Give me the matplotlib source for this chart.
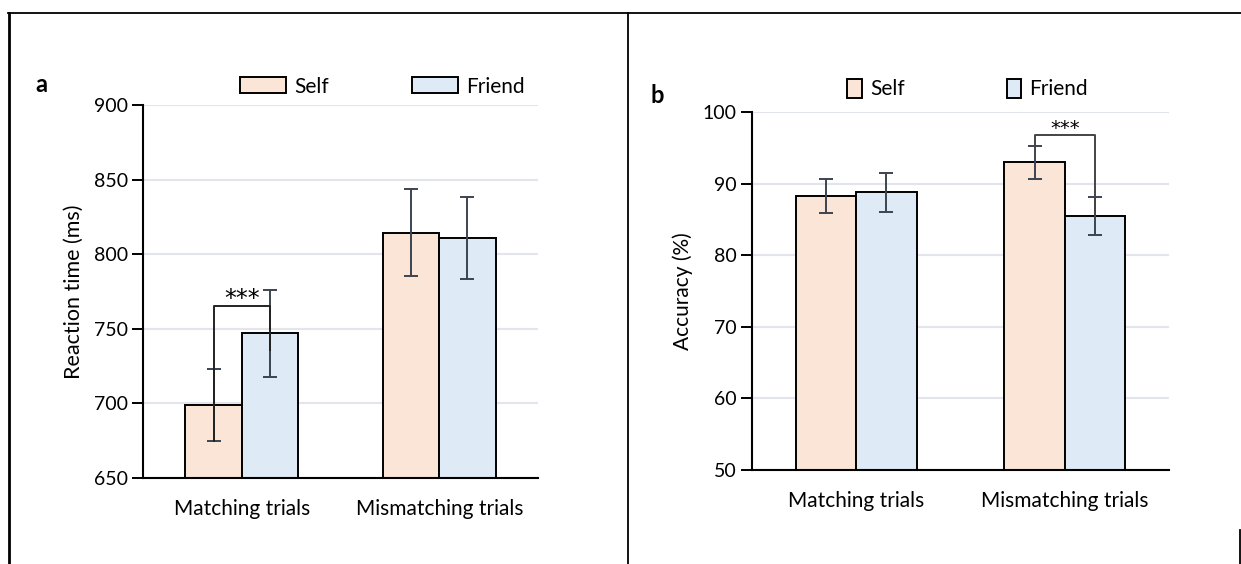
import matplotlib.pyplot as plt
from matplotlib.lines import Line2D
from matplotlib.patches import Patch
import numpy as np

plt.rcParams['font.family'] = ['Lato', 'DejaVu Sans']

# Data
conditions = ['Matching trials', 'Mismatching trials']
rt_self = [699, 814.5]
rt_self_err = [24, 29]
rt_friend = [747, 811]
rt_friend_err = [29, 27.5]
acc_self = [88.3, 93.0]
acc_self_err = [2.4, 2.3]
acc_friend = [88.8, 85.5]
acc_friend_err = [2.7, 2.65]

self_color = '#fbe5d6'
friend_color = '#deebf7'
err_color = '#3b4451'
grid_color = '#e2e6ec'

fig = plt.figure(figsize=(12.41, 5.64), dpi=100)

# panel borders
fig.add_artist(Line2D([8/1241, 1], [1-12.5/564]*2, color='black', lw=1.3))
fig.add_artist(Line2D([8.5/1241]*2, [0, 1-12.5/564], color='black', lw=2))
fig.add_artist(Line2D([628/1241]*2, [0, 1-12.5/564], color='black', lw=1.3))
fig.add_artist(Line2D([1239.5/1241]*2, [0, 1-530/564], color='black', lw=1.3))


def draw_panel(ax, self_vals, self_err, friend_vals, friend_err, width):
    x = np.arange(len(conditions))
    ax.bar(x - width/2, self_vals, width, color=self_color, edgecolor='black', linewidth=1.4, zorder=2)
    ax.bar(x + width/2, friend_vals, width, color=friend_color, edgecolor='black', linewidth=1.4, zorder=2)
    ax.errorbar(x - width/2, self_vals, yerr=self_err, fmt='none', ecolor=err_color,
                elinewidth=1.4, capsize=5, capthick=1.4, zorder=3)
    ax.errorbar(x + width/2, friend_vals, yerr=friend_err, fmt='none', ecolor=err_color,
                elinewidth=1.4, capsize=5, capthick=1.4, zorder=3)
    ax.set_xlim(-0.5, 1.5)
    ax.set_xticks(x)
    ax.set_xticklabels(conditions, fontsize=15)
    ax.tick_params(axis='x', length=0, pad=15)
    ax.tick_params(axis='y', labelsize=14, length=8, width=1.4, direction='out', pad=3)
    ax.yaxis.grid(True, color=grid_color, linewidth=1.5, zorder=0)
    ax.set_axisbelow(True)
    for s in ['top', 'right']:
        ax.spines[s].set_visible(False)
    for s in ['left', 'bottom']:
        ax.spines[s].set_linewidth(1.5)
    return x


# panel a
ax1 = fig.add_axes([143/1241, 1-478/564, 395/1241, 373/564])
w1 = 0.285
x1 = draw_panel(ax1, rt_self, rt_self_err, rt_friend, rt_friend_err, w1)
ax1.set_ylim(650, 900)
ax1.set_yticks([650, 700, 750, 800, 850, 900])
ax1.set_ylabel('Reaction time (ms)', fontsize=15.5, labelpad=7)
ax1.plot([x1[0] - w1/2, x1[0] - w1/2, x1[0] + w1/2, x1[0] + w1/2],
         [rt_self[0] - rt_self_err[0], 765, 765, 736], color='#222222', lw=1.4, zorder=4)
ax1.text(x1[0], 762, '***', ha='center', va='bottom', fontsize=17, family='DejaVu Sans')
ax1.legend(handles=[Patch(facecolor=self_color, edgecolor='black', linewidth=1.4, label='Self'),
                    Patch(facecolor=friend_color, edgecolor='black', linewidth=1.4, label='Friend')],
           loc='lower left', bbox_to_anchor=(0.225, 1.0), ncol=2, frameon=False, fontsize=15,
           handlelength=2.2, handleheight=0.8, handletextpad=0.4, columnspacing=4.0, borderaxespad=0)
fig.text(35/1241, 1-92/564, 'a', fontsize=17, fontweight='bold')

# panel b
ax2 = fig.add_axes([752/1241, 1-470/564, 417/1241, 358/564])
w2 = 0.29
x2 = draw_panel(ax2, acc_self, acc_self_err, acc_friend, acc_friend_err, w2)
ax2.set_ylim(50, 100)
ax2.set_yticks([50, 60, 70, 80, 90, 100])
ax2.set_ylabel('Accuracy (%)', fontsize=15, labelpad=7)
ax2.plot([x2[1] - w2/2, x2[1] - w2/2, x2[1] + w2/2, x2[1] + w2/2],
         [acc_self[1] + acc_self_err[1], 96.8, 96.8, 86.0], color='#444444', lw=1.4, zorder=4)
ax2.text(x2[1], 96.4, '***', ha='center', va='bottom', fontsize=14, family='DejaVu Sans')
ax2.legend(handles=[Patch(facecolor=self_color, edgecolor='black', linewidth=1.4, label='Self'),
                    Patch(facecolor=friend_color, edgecolor='black', linewidth=1.4, label='Friend')],
           loc='lower left', bbox_to_anchor=(0.208, 1.012), ncol=2, frameon=False, fontsize=15,
           handlelength=0.7, handleheight=1.0, handletextpad=0.4, columnspacing=4.9, borderaxespad=0)
fig.text(651/1241, 1-103/564, 'b', fontsize=17, fontweight='bold')

plt.savefig('out.png', dpi=100)
